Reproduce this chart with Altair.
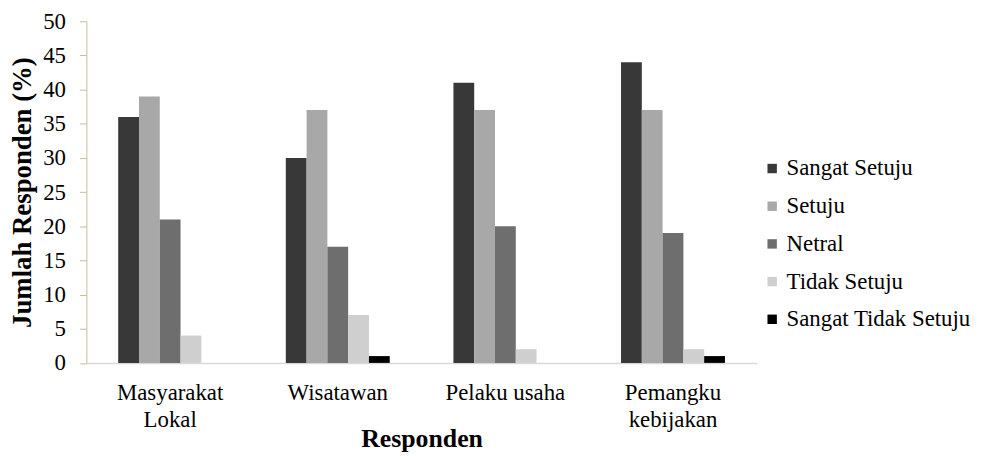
import altair as alt
import pandas as pd

categories = ["Masyarakat Lokal", "Wisatawan", "Pelaku usaha", "Pemangku kebijakan"]
series = ["Sangat Setuju", "Setuju", "Netral", "Tidak Setuju", "Sangat Tidak Setuju"]
sangat_setuju = [36, 30, 41, 44]
setuju = [39, 37, 37, 37]
netral = [21, 17, 20, 19]
tidak_setuju = [4, 7, 2, 2]
sangat_tidak_setuju = [0, 1, 0, 1]
y_ticks = [0, 5, 10, 15, 20, 25, 30, 35, 40, 45, 50]

values = [sangat_setuju, setuju, netral, tidak_setuju, sangat_tidak_setuju]
rows = []
for s, vals in zip(series, values):
    for c, v in zip(categories, vals):
        rows.append({"Responden": c, "Seri": s, "Nilai": v})
df = pd.DataFrame(rows)

colors = ["#383838", "#a8a8a8", "#6e6e6e", "#cfcfcf", "#000000"]
FONT = "Liberation Serif"

chart = alt.Chart(df).mark_bar().encode(
    x=alt.X("Responden:N", sort=categories,
            scale=alt.Scale(paddingInner=0.38, paddingOuter=0.19),
            axis=alt.Axis(title="Responden", labelAngle=0,
                          labelExpr="datum.value == 'Masyarakat Lokal' ? ['Masyarakat', 'Lokal'] : datum.value == 'Pemangku kebijakan' ? ['Pemangku', 'kebijakan'] : datum.value",
                          ticks=False, tickSize=0, labelPadding=19, labelLineHeight=27,
                          labelFont=FONT, labelFontSize=23, labelColor="#000000",
                          titleFont=FONT, titleFontSize=26, titleFontWeight="bold", titleColor="#000000",
                          titleY=84, titleBaseline="alphabetic",
                          domainColor="#d9d9d9", domainWidth=1.5)),
    xOffset=alt.XOffset("Seri:N", sort=series, scale=alt.Scale(paddingInner=0, paddingOuter=0)),
    y=alt.Y("Nilai:Q", scale=alt.Scale(domain=[0, 50], nice=False),
            axis=alt.Axis(title="Jumlah Responden (%)", values=y_ticks, grid=False,
                          tickSize=7, tickColor="#c4bd97", domainColor="#c4bd97",
                          labelPadding=14,
                          labelFont=FONT, labelFontSize=23, labelColor="#000000",
                          titleFont=FONT, titleFontSize=27, titleFontWeight="bold", titleColor="#000000",
                          titleX=-64, titleBaseline="middle")),
    color=alt.Color("Seri:N", sort=series,
                    scale=alt.Scale(domain=series, range=colors),
                    legend=alt.Legend(title=None, orient="none", legendX=680, legendY=137,
                                      symbolType="square", symbolSize=90, symbolStrokeWidth=0,
                                      labelFont=FONT, labelFontSize=23,
                                      labelColor="#000000",
                                      labelOffset=3, rowPadding=14, padding=0, labelLimit=400)),
).properties(
    width=676, height=344.5,
    autosize=alt.AutoSizeParams(type="none"),
    padding={"left": 79, "top": 11.5, "right": 219, "bottom": 92},
).configure(font=FONT).configure_view(stroke=None)

chart.save("out.html", embed_options={"renderer": "svg", "actions": False})
